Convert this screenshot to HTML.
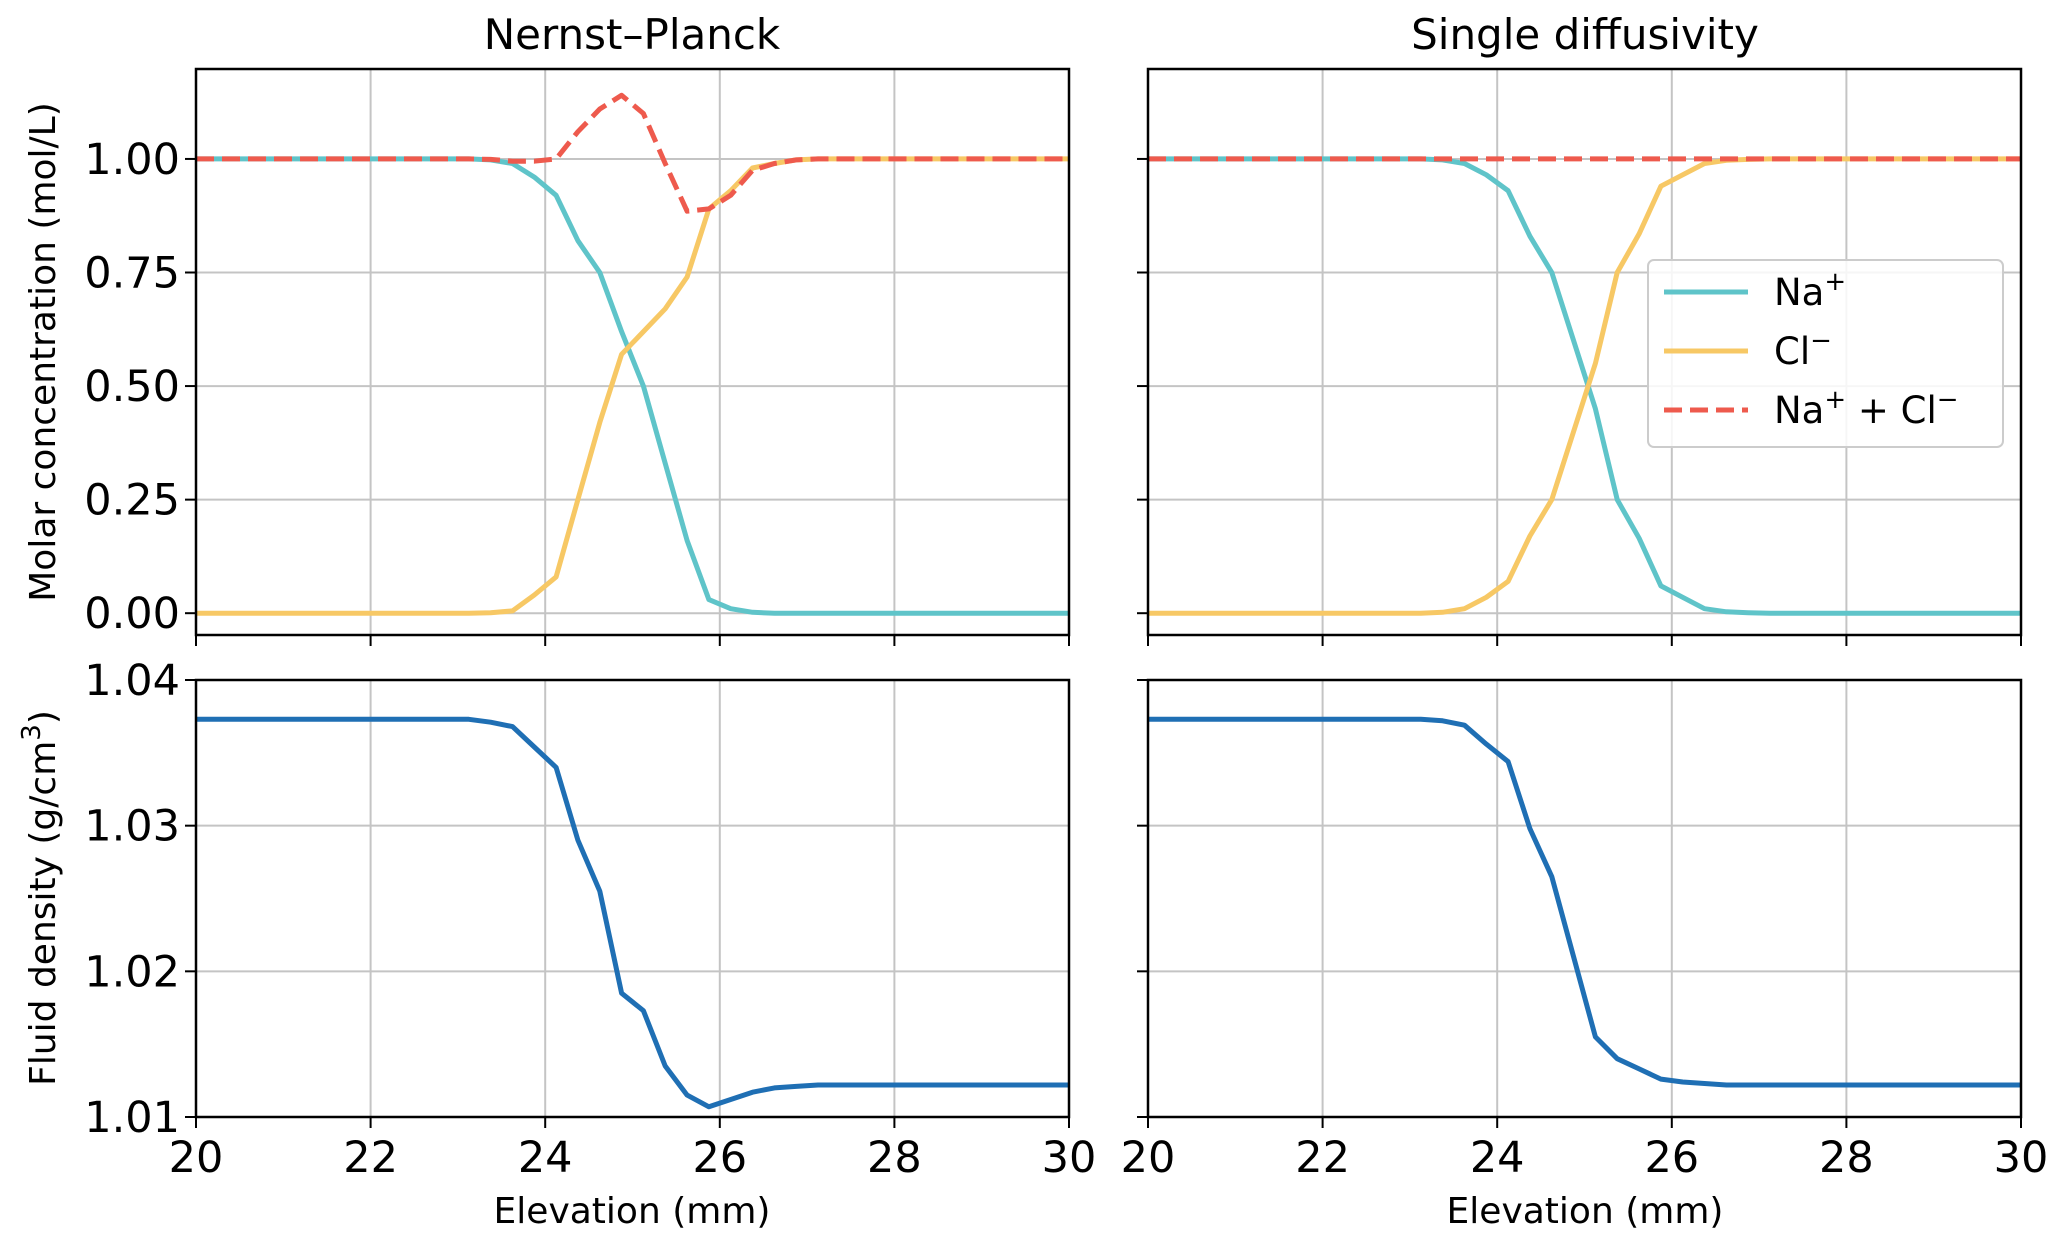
<!DOCTYPE html>
<html><head><meta charset="utf-8"><style>
html,body{margin:0;padding:0;background:#fff;}
svg{display:block;font-family:"DejaVu Sans","Liberation Sans",sans-serif;}
</style></head><body>
<svg id="fig" width="2067" height="1246" viewBox="0 0 2067 1246" xmlns="http://www.w3.org/2000/svg"></svg>
<script>
const elev = [20,22.875,23.125,23.375,23.625,23.875,24.125,24.375,24.625,24.875,25.125,25.375,25.625,25.875,26.125,26.375,26.625,26.875,27.125,30];
const npNa = [1,1,1,0.998,0.99,0.96,0.92,0.82,0.75,0.62,0.50,0.33,0.16,0.03,0.01,0.002,0,0,0,0];
const npCl = [0,0,0,0.001,0.005,0.04,0.08,0.25,0.42,0.57,0.62,0.67,0.74,0.89,0.93,0.98,0.99,0.998,1,1];
const npSum = [1,1,1,0.999,0.995,0.995,1.0,1.06,1.11,1.14,1.10,0.99,0.885,0.89,0.92,0.975,0.99,0.998,1,1];
const npRho = [1.0373,1.0373,1.0373,1.0371,1.0368,1.0354,1.034,1.029,1.0255,1.0185,1.0173,1.0135,1.0115,1.0107,1.0112,1.0117,1.0120,1.0121,1.0122,1.0122];
const sdNa = [1,1,1,0.998,0.99,0.965,0.93,0.83,0.75,0.60,0.45,0.25,0.165,0.06,0.035,0.01,0.003,0.001,0,0];
const sdCl = [0,0,0,0.002,0.01,0.035,0.07,0.17,0.25,0.40,0.55,0.75,0.835,0.94,0.965,0.99,0.997,0.999,1,1];
const sdSum = [1,1,1,1,1,1,1,1,1,1,1,1,1,1,1,1,1,1,1,1];
const sdRho = [1.0373,1.0373,1.0373,1.0372,1.0369,1.0356,1.0344,1.0298,1.0265,1.021,1.0155,1.014,1.0133,1.0126,1.0124,1.0123,1.0122,1.0122,1.0122,1.0122];
const xTicks = [20,22,24,26,28,30];
const cTicks = [0,0.25,0.5,0.75,1.0];
const cTickLabels = ["0.00","0.25","0.50","0.75","1.00"];
const rTicks = [1.01,1.02,1.03,1.04];
const rTickLabels = ["1.01","1.02","1.03","1.04"];

const NS="http://www.w3.org/2000/svg";
const svg=document.getElementById('fig');
function mk(tag,attrs,parent,text){const e=document.createElementNS(NS,tag);for(const k in attrs)e.setAttribute(k,attrs[k]);if(text!==undefined)e.textContent=text;(parent||svg).appendChild(e);return e;}

const cols=[{x0:196,x1:1069},{x0:1148,x1:2021}];
const rows=[{y0:69,y1:635,lo:-0.048,hi:1.198},{y0:680,y1:1117,lo:1.01,hi:1.04}];
const COL={na:"#5fc4c9",cl:"#f7c865",sum:"#ee5a4d",rho:"#1f6fb4"};

function panel(ci,ri,name,series,showX,showY){
  const c=cols[ci],r=rows[ri];
  const g=mk('g',{});
  
  
  const sx=v=>c.x0+(v-20)/10*(c.x1-c.x0);
  const sy=v=>r.y1-(v-r.lo)/(r.hi-r.lo)*(r.y1-r.y0);
  const yt= ri===0?cTicks:rTicks, ytl= ri===0?cTickLabels:rTickLabels;
  xTicks.forEach(t=>{const l=mk('line',{x1:sx(t),x2:sx(t),y1:r.y0,y2:r.y1,stroke:"#c4c4c4","stroke-width":2},g);});
  yt.forEach(t=>{const l=mk('line',{x1:c.x0,x2:c.x1,y1:sy(t),y2:sy(t),stroke:"#c4c4c4","stroke-width":2},g);});
  series.forEach(s=>{
    const d=elev.map((x,i)=>(i?'L':'M')+sx(x).toFixed(1)+','+sy(s.v[i]).toFixed(1)).join('');
    const p=mk('path',{d:d,fill:"none",stroke:s.c,"stroke-width":5,"stroke-linejoin":"round"},g);
    if(s.dash)p.setAttribute('stroke-dasharray','18,8');
    
    
  });
  const f=mk('rect',{x:c.x0,y:r.y0,width:c.x1-c.x0,height:r.y1-r.y0,fill:"none",stroke:"#000","stroke-width":2.5},g);
  
  xTicks.forEach(t=>{mk('line',{x1:sx(t),x2:sx(t),y1:r.y1,y2:r.y1+11,stroke:"#000","stroke-width":2},g);
    if(showX){const tx=mk('text',{x:sx(t),y:r.y1+55,"font-size":43,"text-anchor":"middle",fill:"#000"},g,String(t));}});
  yt.forEach((t,i)=>{mk('line',{x1:c.x0-11,x2:c.x0,y1:sy(t),y2:sy(t),stroke:"#000","stroke-width":2},g);
    if(showY){const tx=mk('text',{x:c.x0-16,y:sy(t)+15,"font-size":43,"text-anchor":"end",fill:"#000"},g,ytl[i]);}});
}
panel(0,0,'np-concentration-panel',[{v:npNa,c:COL.na,n:'np-na-line'},{v:npCl,c:COL.cl,n:'np-cl-line'},{v:npSum,c:COL.sum,n:'np-sum-line',dash:1}],false,true);
panel(1,0,'sd-concentration-panel',[{v:sdNa,c:COL.na,n:'sd-na-line'},{v:sdCl,c:COL.cl,n:'sd-cl-line'},{v:sdSum,c:COL.sum,n:'sd-sum-line',dash:1}],false,false);
panel(0,1,'np-density-panel',[{v:npRho,c:COL.rho,n:'np-density-line'}],true,true);
panel(1,1,'sd-density-panel',[{v:sdRho,c:COL.rho,n:'sd-density-line'}],true,false);

let t;
t=mk('text',{x:632,y:49,"font-size":42,"text-anchor":"middle"},svg,"Nernst–Planck");
t=mk('text',{x:1585,y:49,"font-size":42,"text-anchor":"middle"},svg,"Single diffusivity");
t=mk('text',{x:632,y:1223,"font-size":36,"text-anchor":"middle"},svg,"Elevation (mm)");
t=mk('text',{x:1585,y:1223,"font-size":36,"text-anchor":"middle"},svg,"Elevation (mm)");
t=mk('text',{x:0,y:0,"font-size":36,"text-anchor":"middle",transform:"translate(55,352) rotate(-90)"},svg,"Molar concentration (mol/L)");
t=mk('text',{x:0,y:0,"font-size":36,"text-anchor":"middle",transform:"translate(55,898) rotate(-90)"},svg);
t.innerHTML='Fluid density (g/cm<tspan dy="-15" font-size="26">3</tspan><tspan dy="15">)</tspan>';


const lg=mk('g',{});

mk('rect',{x:1648,y:260,width:355,height:187,rx:6,fill:"#fff","fill-opacity":0.85,stroke:"#ccc","stroke-width":2},lg);
const entries=[{c:COL.na,html:'Na<tspan dy="-15" font-size="26">+</tspan>',n:'legend-entry-na'},{c:COL.cl,html:'Cl<tspan dy="-15" font-size="26">−</tspan>',n:'legend-entry-cl'},{c:COL.sum,dash:1,html:'Na<tspan dy="-15" font-size="26">+</tspan><tspan dy="15"> + Cl</tspan><tspan dy="-15" font-size="26">−</tspan>',n:'legend-entry-sum'}];
entries.forEach((e,i)=>{const y=292+i*59;
  const g=mk('g',{},lg);
  const l=mk('line',{x1:1664,x2:1748,y1:y,y2:y,stroke:e.c,"stroke-width":5},g);if(e.dash)l.setAttribute('stroke-dasharray','18,8');
  const tx=mk('text',{x:1774,y:y+13,"font-size":37},g);tx.innerHTML=e.html;});
</script>
</body></html>
